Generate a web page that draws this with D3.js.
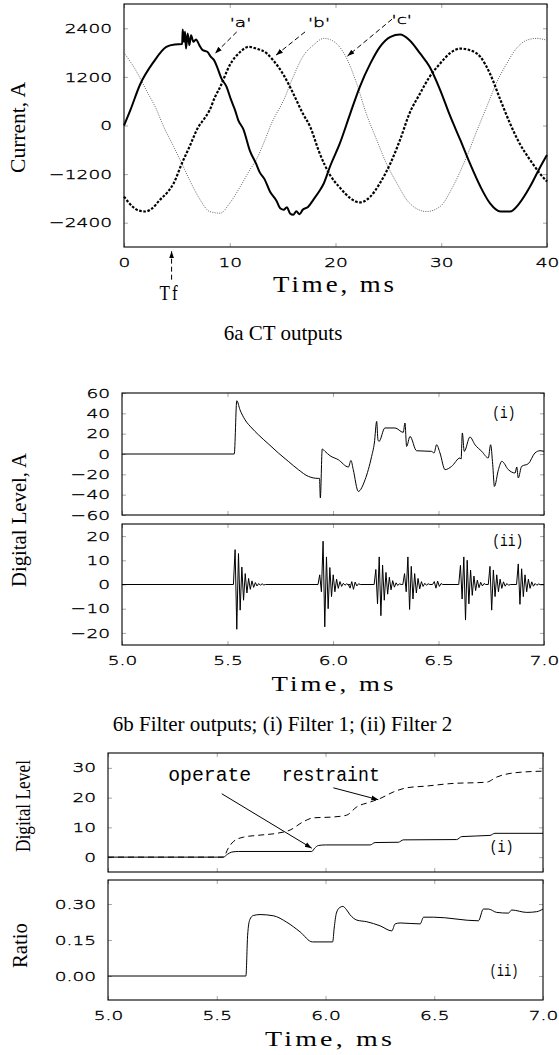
<!DOCTYPE html>
<html>
<head>
<meta charset="utf-8">
<script src="https://cdn.jsdelivr.net/npm/d3@7"></script>
<style>
  body { margin: 0; background: #fff; }
  svg { display: block; }
</style>
</head>
<body>
<svg id="fig" width="559" height="1055"></svg>
<script>
// ---------- 6a CT outputs : [time ms, current A] ----------
const ctPhaseA = [[0,0],[0.6,380],[1.5,1000],[2.8,1570],[4.0,1940],[4.8,2000],[5.5,2010],[5.55,2370],[5.67,2065],[5.77,2312],[5.86,1900],[6.02,2270],[6.18,1985],[6.34,2230],[6.56,2065],[6.81,2124],[7.12,1985],[7.44,1860],[7.88,1820],[8.2,1700],[8.5,1620],[8.8,1450],[9.2,1170],[9.7,955],[10.1,650],[10.5,380],[10.8,135],[11.3,-100],[11.9,-620],[12.5,-950],[12.8,-1140],[13.3,-1330],[13.8,-1630],[14.4,-1850],[14.8,-2050],[15.1,-2080],[15.4,-2020],[15.7,-2170],[16.0,-2205],[16.3,-2120],[16.6,-2190],[16.9,-2080],[17.4,-2010],[17.9,-1835],[18.4,-1650],[18.9,-1425],[19.5,-1000],[20.4,-450],[21.4,300],[22.3,956],[23.3,1533],[24.2,1942],[25.2,2190],[26.1,2247],[27.0,2107],[28.0,1780],[28.9,1450],[29.9,875],[30.8,260],[31.8,-357],[32.7,-930],[33.7,-1508],[34.6,-1917],[35.6,-2124],[36.5,-2124],[37.4,-1917],[38.4,-1508],[39.3,-1055],[40,-727]];
const ctPhaseB = [[0,-1755],[0.8,-2000],[1.4,-2100],[2.0,-2124],[2.6,-2060],[3.4,-1835],[4.1,-1650],[4.7,-1425],[5.45,-950],[6.2,-522],[7.0,-50],[7.5,135],[8.1,380],[8.6,700],[9.1,956],[10.0,1490],[11.0,1820],[11.8,1942],[12.5,1900],[13.5,1780],[14.1,1614],[15.1,1244],[16.0,793],[16.9,300],[17.6,-30],[18.5,-685],[19.5,-1230],[20.4,-1530],[21.4,-1794],[22.3,-1900],[23.3,-1755],[24.2,-1425],[25.2,-930],[26.1,-357],[27.0,300],[28.0,793],[28.9,1203],[29.9,1533],[30.8,1780],[31.8,1900],[32.7,1860],[33.7,1695],[34.6,1286],[35.6,628],[36.5,54],[37.4,-440],[38.4,-850],[39.3,-1178],[40,-1385]];
const ctPhaseC = [[0,1800],[1.2,1325],[2.1,875],[3.1,380],[3.7,0],[4.7,-522],[5.45,-930],[6.2,-1343],[7.2,-1835],[8.1,-2124],[9.1,-2165],[10.0,-1917],[11.0,-1508],[11.9,-1096],[12.5,-850],[13.2,-440],[14.0,80],[15.1,628],[16.0,1203],[16.9,1695],[17.9,1983],[18.9,2150],[19.5,2120],[20.9,1737],[22.0,1040],[22.9,300],[23.9,-357],[24.8,-930],[25.8,-1425],[27.0,-1917],[28.6,-2124],[29.9,-2000],[31.1,-1508],[32.4,-770],[33.4,-110],[34.3,463],[35.2,1040],[36.2,1533],[37.1,1900],[38.1,2107],[39.0,2150],[40,2107]];
const ctTimeTicks = [0, 10, 20, 30, 40];
const ctCurrentTicks = [-2400, -1200, 0, 1200, 2400];
const faultTime = 4.5;

// ---------- 6b filter outputs : [time ms, digital level] ----------
const filter1 = [[5.0,0],[5.532,0],[5.544,52.4],[5.559,43.6],[5.583,33.7],[5.615,25.6],[5.646,19],[5.693,10.1],[5.741,1],[5.788,-7.2],[5.836,-15.4],[5.883,-22],[5.93,-24],[5.936,-24],[5.940,-43.3],[5.949,4.9],[5.962,2.6],[5.986,-1.7],[6.025,-5.6],[6.073,-12.8],[6.085,-6.3],[6.096,-15.4],[6.12,-36.8],[6.152,-25.3],[6.183,-2.4],[6.196,10.8],[6.207,32],[6.213,14],[6.218,12.4],[6.246,25.6],[6.294,25.6],[6.333,21.3],[6.341,30.5],[6.349,7.5],[6.365,17.3],[6.396,3.2],[6.467,2.6],[6.479,1],[6.491,9.1],[6.507,1],[6.531,-15.4],[6.562,-12.2],[6.602,-3.9],[6.607,-5],[6.613,20.7],[6.622,2.6],[6.649,16.7],[6.673,9.1],[6.705,2.6],[6.736,-3.9],[6.747,9.1],[6.757,-10.5],[6.765,-31.9],[6.784,-15.4],[6.8,-7.2],[6.831,-15.4],[6.863,-18.7],[6.871,-12.8],[6.878,-23.6],[6.894,-12.2],[6.926,-9.5],[6.957,1],[6.981,3.2],[7.0,2.6]];
// filter 2 : ringing bursts, onset time and successive peak values
const filter2Onsets = [5.536, 5.937, 6.081, 6.203, 6.339, 6.48, 6.604, 6.744, 6.878];
const filter2Peaks = [
  [14.4,-18.5,12.8,-10.6,7.2,-6.5,4.5,-3.5,2.5,-2,1.5,-1.2,0.8,-0.6,0.4,-0.3,0.3,-0.2],
  [4,-3,17.9,-17.5,11.4,-10,7,-5,4,-3,2.2,-1.6,1.2,-0.8,0.5,-0.3,0.3,-0.2],
  [-1.5,1.2,-2,1,-0.6,0.3],
  [6.2,-8,11.4,-12.9,8,-6.5,5,-4,3,-2.2,1.6,-1.1,0.7,-0.4,0.3],
  [4.5,-3,11.4,-10.3,7.5,-6,4.5,-3.5,2.5,-1.8,1.2,-0.8,0.5,-0.3,0.3],
  [1.2,-1.5,1.4,-0.8,0.4],
  [7.9,-6,11.4,-14.7,10,-8,6,-4.5,3.5,-2.5,1.8,-1.3,0.9,-0.6,0.4],
  [7.5,-10.6,6,-5,4,-3,2.2,-1.6,1.1,-0.7,0.4,-0.3],
  [8.5,-8.2,6.5,-5,4,-3,2.2,-1.6,1.1,-0.7,0.4,-0.3,0.2]
];
const filter2HalfPeriod = 0.008;
const filterTimeTicks = [5.0, 5.5, 6.0, 6.5, 7.0];
const filter1Ticks = [-60, -40, -20, 0, 20, 40, 60];
const filter2Ticks = [-20, -10, 0, 10, 20];

// ---------- 6c comparator : operate / restraint levels and ratio ----------
const operateLevel = [[5.0,0],[5.53,0],[5.55,1.0],[5.569,1.7],[5.6,1.9],[5.937,1.9],[5.95,3.0],[5.967,3.9],[6.0,4.1],[6.205,4.1],[6.228,4.9],[6.335,5.0],[6.358,5.8],[6.603,5.9],[6.626,6.9],[6.756,7.3],[6.779,8.0],[7.0,8.0]];
const restraintLevel = [[5.0,0],[5.53,0],[5.553,3.0],[5.576,5.2],[5.622,6.7],[5.699,7.4],[5.776,8.0],[5.837,9.1],[5.898,11.9],[5.944,13.2],[6.036,13.5],[6.097,14.1],[6.144,16.9],[6.205,18.5],[6.251,19.7],[6.312,21.9],[6.374,23.3],[6.466,23.9],[6.572,24.7],[6.741,25.2],[6.787,26.9],[6.864,28.3],[7.0,28.9]];
const ratio = [[5.0,0],[5.634,0],[5.642,0.17],[5.652,0.235],[5.668,0.252],[5.699,0.256],[5.76,0.251],[5.822,0.224],[5.883,0.184],[5.94,0.142],[6.033,0.142],[6.04,0.2],[6.05,0.262],[6.065,0.285],[6.08,0.29],[6.095,0.278],[6.113,0.255],[6.144,0.233],[6.19,0.226],[6.251,0.209],[6.305,0.188],[6.32,0.217],[6.343,0.221],[6.435,0.217],[6.451,0.245],[6.497,0.245],[6.703,0.230],[6.726,0.279],[6.749,0.279],[6.787,0.265],[6.841,0.262],[6.856,0.275],[6.925,0.265],[6.971,0.268],[7.0,0.279]];
const levelTicks = [0, 10, 20, 30];
const ratioTicks = [0, 0.15, 0.30];

// ---------- drawing ----------
const svg = d3.select('#fig');
const SX = 1.45;          // wide plotter digits
const serif = 'Liberation Serif, Times New Roman, serif';
const mono = 'Liberation Mono, Courier New, monospace';
const sans = 'DejaVu Sans, sans-serif';

const defs = svg.append('defs');
defs.append('marker')
  .attr('id', 'head')
  .attr('viewBox', '0 0 10 10')
  .attr('refX', 10).attr('refY', 5)
  .attr('markerWidth', 7).attr('markerHeight', 7)
  .attr('orient', 'auto')
  .append('path')
  .attr('d', 'M0,1.5L10,5L0,8.5Z')
  .attr('fill', '#000');

function plotterText(sel) {
  sel.attr('font-family', sans).attr('font-size', 12.8).attr('font-weight', 200)
    .attr('fill', '#000').attr('stroke', '#000').attr('stroke-width', 0.35);
}

function tickStyle(sel, side) {
  sel.call(plotterText);
  sel.select('.domain').remove();
  sel.selectAll('.tick text').attr('fill', '#000').attr('transform', `scale(${SX},1)`);
  if (side === 'left') sel.selectAll('.tick text').attr('x', -12 / SX);
}

function panel(box, xDomain, yDomain, xTicks, yTicks, yFormat, xFormat) {
  const x = d3.scaleLinear().domain(xDomain).range([box.l, box.r]);
  const y = d3.scaleLinear().domain(yDomain).range([box.b, box.t]);
  const g = svg.append('g');

  g.append('g').attr('transform', `translate(${box.l},0)`)
    .call(d3.axisLeft(y).tickValues(yTicks).tickFormat(yFormat).tickSizeInner(-4).tickSizeOuter(0))
    .call(tickStyle, 'left');
  g.append('g').attr('transform', `translate(${box.r},0)`)
    .call(d3.axisRight(y).tickValues(yTicks).tickFormat(() => '').tickSizeInner(-4).tickSizeOuter(0))
    .call(tickStyle);
  g.append('g').attr('transform', `translate(0,${box.t})`)
    .call(d3.axisTop(x).tickValues(xTicks).tickFormat(() => '').tickSizeInner(-4).tickSizeOuter(0))
    .call(tickStyle);
  g.append('g').attr('transform', `translate(0,${box.b})`)
    .call(d3.axisBottom(x).tickValues(xTicks).tickFormat(xFormat || (() => '')).tickSizeInner(-4).tickSizeOuter(0).tickPadding(11))
    .call(tickStyle);

  g.append('rect')
    .attr('x', box.l).attr('y', box.t)
    .attr('width', box.r - box.l).attr('height', box.b - box.t)
    .attr('fill', 'none').attr('stroke', '#000').attr('stroke-width', 1.1);

  return { x, y, g };
}

function curve(p, data, style, interp) {
  const line = d3.line()
    .x(d => p.x(d[0]))
    .y(d => p.y(d[1]))
    .curve(interp || d3.curveMonotoneX);
  const path = p.g.append('path').datum(data).attr('d', line).attr('fill', 'none');
  Object.entries(style).forEach(([k, v]) => path.attr(k, v));
  return path;
}

function arrow(p, from, to, dash) {
  p.g.append('line')
    .attr('x1', p.x(from[0])).attr('y1', p.y(from[1]))
    .attr('x2', p.x(to[0])).attr('y2', p.y(to[1]))
    .attr('stroke', '#000').attr('stroke-width', 1)
    .attr('stroke-dasharray', dash || null)
    .attr('marker-end', 'url(#head)');
}

function label(p, at, txt, font, size, len) {
  p.g.append('text')
    .attr('x', p.x(at[0])).attr('y', p.y(at[1]))
    .attr('font-family', font).attr('font-size', size)
    .attr('textLength', len).attr('lengthAdjust', 'spacingAndGlyphs')
    .text(txt);
}

// serif axis titles, wide like the plotter lettering
function title(txt, x, y, len, rotate, size) {
  const t = svg.append('text')
    .attr('font-family', serif).attr('font-size', size || 20)
    .attr('text-anchor', 'middle')
    .attr('letter-spacing', rotate ? 0 : 2.5)
    .attr('textLength', len).attr('lengthAdjust', 'spacingAndGlyphs')
    .text(txt);
  if (rotate) t.attr('transform', `translate(${x},${y}) rotate(-90)`);
  else t.attr('x', x).attr('y', y);
}

function caption(txt, x, y) {
  svg.append('text').attr('x', x).attr('y', y)
    .attr('font-family', serif).attr('font-size', 21)
    .attr('text-anchor', 'middle').text(txt);
}

// ---- 6a ----
const pa = panel({ l: 124, r: 547, t: 4, b: 247 }, [0, 40], [-3000, 3000],
  ctTimeTicks, ctCurrentTicks, d3.format('d'), d3.format('d'));
curve(pa, ctPhaseC, { stroke: '#666', 'stroke-width': 1, 'stroke-dasharray': '1,1.3' });
curve(pa, ctPhaseB, { stroke: '#000', 'stroke-width': 2.2, 'stroke-dasharray': '2.6,1.6' });
curve(pa, ctPhaseA, { stroke: '#000', 'stroke-width': 2 });

[["'a'", [10.0, 2430], [10.66, 2311], [8.61, 1779]],
 ["'b'", [17.4, 2430], [17.12, 2311], [14.37, 1737]],
 ["'c'", [25.3, 2500], [25.34, 2624], [21.13, 1713]]].forEach(([txt, at, from, to]) => {
  pa.g.append('text')
    .attr('transform', `translate(${pa.x(at[0])},${pa.y(at[1])}) scale(${SX},1)`)
    .call(plotterText).text(txt);
  arrow(pa, from, to, '5,3');
});
arrow(pa, [faultTime, -3807], [faultTime, -3105], '5,3');
title('Tf', pa.x(faultTime) - 2, 300, 20, false, 22);
title('Current, A', 25, 127.5, 91, true);
title('Time, ms', 335, 292, 124, false, 23);
caption('6a CT outputs', 283, 340);

// ---- 6b ----
const fmt1 = d3.format('.1f');
const pb1 = panel({ l: 122, r: 544, t: 393, b: 515 }, [5, 7], [-60, 60],
  filterTimeTicks, filter1Ticks, d3.format('d'), null);
const pb2 = panel({ l: 122, r: 544, t: 524, b: 645 }, [5, 7], [-25, 25],
  filterTimeTicks, filter2Ticks, d3.format('d'), fmt1);
curve(pb1, filter1, { stroke: '#000', 'stroke-width': 1 });

const filter2 = [[5.0, 0]];
filter2Onsets.forEach((t0, i) => {
  filter2.push([t0 - filter2HalfPeriod, 0]);
  filter2Peaks[i].forEach((v, k) => filter2.push([t0 + k * filter2HalfPeriod, v]));
  filter2.push([t0 + filter2Peaks[i].length * filter2HalfPeriod, 0]);
});
filter2.push([7.0, 0]);
curve(pb2, filter2, { stroke: '#000', 'stroke-width': 1 }, d3.curveLinear);

label(pb1, [6.755, 35.7], '(i)', mono, 17, 23);
label(pb2, [6.755, 15.8], '(ii)', mono, 17, 31);
title('Digital Level, A', 25.5, 520, 134, true);
title('Time, ms', 334, 691, 125, false, 22);
caption('6b Filter outputs; (i) Filter 1; (ii) Filter 2', 282.5, 731);

// ---- 6c ----
const pc1 = panel({ l: 108, r: 543, t: 753, b: 872 }, [5, 7], [-5, 35],
  filterTimeTicks, levelTicks, d3.format('d'), null);
const pc2 = panel({ l: 108, r: 543, t: 880, b: 1000 }, [5, 7], [-0.1, 0.4],
  filterTimeTicks, ratioTicks, d3.format('.2f'), fmt1);
curve(pc1, restraintLevel, { stroke: '#000', 'stroke-width': 1, 'stroke-dasharray': '6,4' });
curve(pc1, operateLevel, { stroke: '#000', 'stroke-width': 1 });
curve(pc2, ratio, { stroke: '#000', 'stroke-width': 1 });

label(pc1, [5.277, 25.5], 'operate', mono, 19.5, 83);
label(pc1, [5.799, 25.5], 'restraint', mono, 19.5, 98);
arrow(pc1, [5.523, 21.3], [5.937, 3.0]);
arrow(pc1, [6.036, 23.3], [6.243, 19.3]);
label(pc1, [6.754, 1.8], '(i)', mono, 17, 24);
label(pc2, [6.754, 0.0], '(ii)', mono, 17, 29);
title('Digital Level', 29.5, 806, 92, true);
title('Ratio', 27, 945.5, 45, true);
title('Time, ms', 330, 1046, 130, false, 22);
</script>
</body>
</html>
